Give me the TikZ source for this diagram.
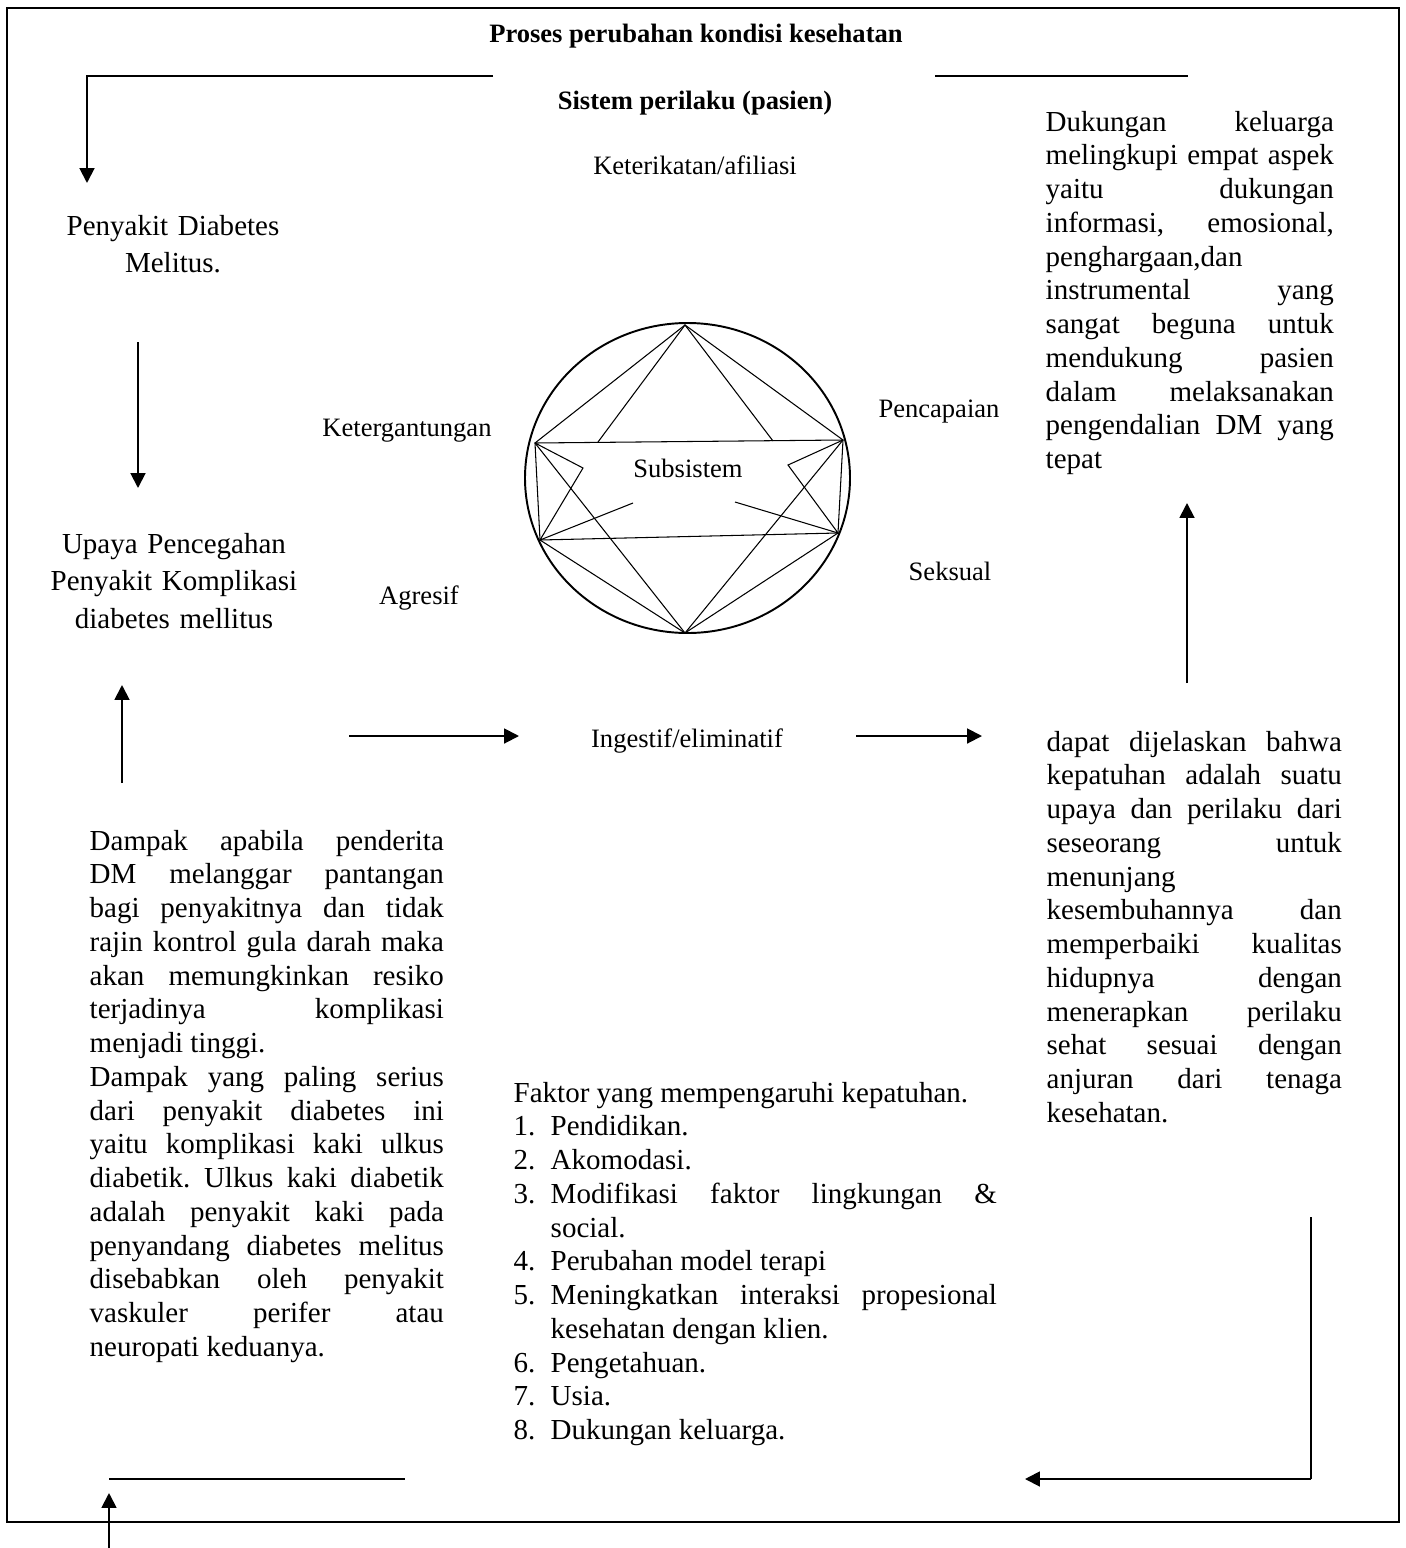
\documentclass[tikz,border=0pt]{standalone}
\usepackage{fontspec}
\setmainfont{Liberation Serif}
\usetikzlibrary{arrows.meta}
\tolerance=10000
\hbadness=10000
\frenchspacing
\newcommand{\faktoritem}[2]{\par\hangindent=0.37cm\hangafter=1\makebox[0.37cm][l]{#1.}#2}
\begin{document}
\begin{tikzpicture}[x=0.01cm,y=-0.01cm,
  arrowline/.style={line width=0.55pt,-{Triangle[length=4.2pt,width=4.2pt]}},
  plainline/.style={line width=0.55pt},
  hairline/.style={line width=0.3pt},
  smalltext/.style={font=\fontsize{7.55pt}{9pt}\selectfont,inner sep=0pt},
  headtext/.style={font=\fontsize{7.55pt}{9pt}\selectfont\bfseries,inner sep=0pt},
  blocktext/.style={font=\fontsize{8.25pt}{10.8pt}\selectfont,inner sep=0pt,anchor=base,align=center,text width=3.4cm},
  paratext/.style={font=\fontsize{8.25pt}{9.6pt}\selectfont,inner sep=0pt,anchor=base west,align=justify}]
\useasboundingbox (0,0) rectangle (1406,1548);
\draw[line width=0.8pt] (7,8) rectangle (1399,1522);

\node[headtext] (title) at (696,36) {Proses perubahan kondisi kesehatan};
\node[headtext] (sistem) at (695,103) {Sistem perilaku (pasien)};
\node[smalltext] (afiliasi) at (695,165) {Keterikatan/afiliasi};
\node[smalltext] (ketergantungan) at (407,431) {Ketergantungan};
\node[smalltext] (pencapaian) at (939,412) {Pencapaian};
\node[smalltext] (agresif) at (419,598) {Agresif};
\node[smalltext] (seksual) at (950,571) {Seksual};
\node[smalltext] (subsistem) at (688,468) {Subsistem};
\node[smalltext] (ingestif) at (687,741) {Ingestif/eliminatif};

\node[blocktext] (penyakit) at (173,235) {Penyakit Diabetes\\Melitus.};
\node[blocktext] (upaya) at (174,553) {Upaya Pencegahan\\Penyakit Komplikasi\\diabetes mellitus};

\node[paratext,text width=3.54cm] (dampak) at (89,850) {Dampak apabila penderita\break
DM melanggar pantangan\break
bagi penyakitnya dan tidak\break
rajin kontrol gula darah maka\break
akan memungkinkan resiko\break
terjadinya komplikasi\break
menjadi tinggi.\par
Dampak yang paling serius\break
dari penyakit diabetes ini\break
yaitu komplikasi kaki ulkus\break
diabetik. Ulkus kaki diabetik\break
adalah penyakit kaki pada\break
penyandang diabetes melitus\break
disebabkan oleh penyakit\break
vaskuler perifer atau\break
neuropati keduanya.};

\node[paratext,text width=2.88cm] (dukungan) at (1045,131) {Dukungan keluarga\break
melingkupi empat aspek\break
yaitu dukungan\break
informasi, emosional,\break
penghargaan,dan\hfill\break
instrumental yang\break
sangat beguna untuk\break
mendukung pasien\break
dalam melaksanakan\break
pengendalian DM yang\break
tepat};

\node[paratext,text width=2.95cm] (kepatuhan) at (1046,751) {dapat dijelaskan bahwa\break
kepatuhan adalah suatu\break
upaya dan perilaku dari\break
seseorang untuk\break
menunjang\hfill\break
kesembuhannya dan\break
memperbaiki kualitas\break
hidupnya dengan\break
menerapkan perilaku\break
sehat sesuai dengan\break
anjuran dari tenaga\break
kesehatan.};

\node[paratext,text width=4.83cm] (faktor) at (513,1102) {Faktor yang mempengaruhi kepatuhan.
\faktoritem{1}{Pendidikan.}
\faktoritem{2}{Akomodasi.}
\faktoritem{3}{Modifikasi faktor lingkungan \&\break social.}
\faktoritem{4}{Perubahan model terapi}
\faktoritem{5}{Meningkatkan interaksi propesional\break kesehatan dengan klien.}
\faktoritem{6}{Pengetahuan.}
\faktoritem{7}{Usia.}
\faktoritem{8}{Dukungan keluarga.}};

% circle of the subsystems
\coordinate (top) at (685,325);
\coordinate (bottom) at (685,633);
\coordinate (boxNW) at (535,443);
\coordinate (boxNE) at (843,440);
\coordinate (boxSE) at (838,533);
\coordinate (boxSW) at (540,540);
\coordinate (spokeL) at (598,442);
\coordinate (spokeR) at (773,441);
\coordinate (kinkL) at (583,468);
\coordinate (kinkR) at (788,465);
\coordinate (endL) at (633,503);
\coordinate (endR) at (735,502);
\draw[plainline] (687.5,478) ellipse (162.5 and 155);
\draw[hairline] (boxNW) -- (boxNE) -- (boxSE) -- (boxSW) -- cycle;
\draw[hairline] (boxNW) -- (top) -- (boxNE);
\draw[hairline] (spokeL) -- (top) -- (spokeR);
\draw[hairline] (boxSW) -- (bottom) -- (boxSE);
\draw[hairline] (boxNW) -- (bottom) -- (boxNE);
\draw[hairline] (boxNW) -- (kinkL) -- (boxSW) -- (endL);
\draw[hairline] (boxNE) -- (kinkR) -- (boxSE) -- (endR);

% connectors
\coordinate (topLineA) at (493,76);
\coordinate (topCorner) at (87,76);
\coordinate (penyakitIn) at (87,183);
\coordinate (topLineB) at (935,76);
\coordinate (topLineC) at (1188,76);
\coordinate (penyakitOut) at (138,342);
\coordinate (upayaIn) at (138,488);
\coordinate (dampakOut) at (122,783);
\coordinate (upayaUp) at (122,685);
\coordinate (midLeftA) at (349,736);
\coordinate (midLeftB) at (519,736);
\coordinate (midRightA) at (856,736);
\coordinate (midRightB) at (982,736);
\coordinate (kepatuhanOut) at (1187,683);
\coordinate (dukunganIn) at (1187,503);
\coordinate (rightDrop) at (1311,1217);
\coordinate (rightCorner) at (1311,1479);
\coordinate (faktorIn) at (1025,1479);
\coordinate (bottomLineA) at (109,1479);
\coordinate (bottomLineB) at (405,1479);
\coordinate (bottomTail) at (109,1548);
\coordinate (bottomTip) at (109,1493);

\draw[arrowline] (topLineA) -- (topCorner) -- (penyakitIn);
\draw[plainline] (topLineB) -- (topLineC);
\draw[arrowline] (penyakitOut) -- (upayaIn);
\draw[arrowline] (dampakOut) -- (upayaUp);
\draw[arrowline] (midLeftA) -- (midLeftB);
\draw[arrowline] (midRightA) -- (midRightB);
\draw[arrowline] (kepatuhanOut) -- (dukunganIn);
\draw[hairline] (rightDrop) -- (rightCorner);
\draw[arrowline] (rightCorner) -- (faktorIn);
\draw[plainline] (bottomLineA) -- (bottomLineB);
\draw[arrowline] (bottomTail) -- (bottomTip);
\end{tikzpicture}
\end{document}
